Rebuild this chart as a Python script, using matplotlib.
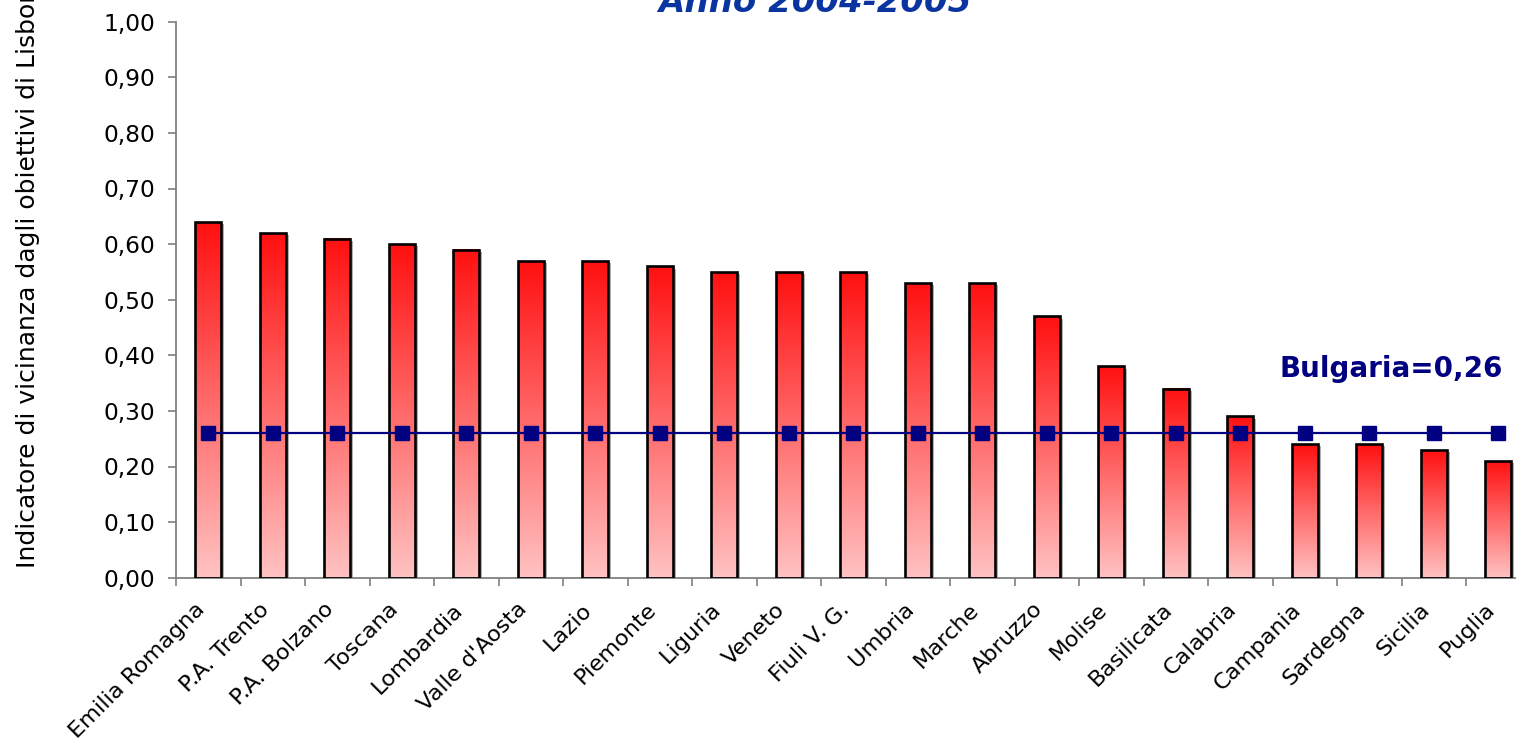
import numpy as np
import matplotlib
matplotlib.use('Agg')
import matplotlib.pyplot as plt
import matplotlib.transforms as mtransforms
from matplotlib.colors import LinearSegmentedColormap

regioni = ["Emilia Romagna", "P.A. Trento", "P.A. Bolzano", "Toscana", "Lombardia",
           "Valle d'Aosta", "Lazio", "Piemonte", "Liguria", "Veneto", "Fiuli V. G.",
           "Umbria", "Marche", "Abruzzo", "Molise", "Basilicata", "Calabria",
           "Campania", "Sardegna", "Sicilia", "Puglia"]
valori = [0.64, 0.62, 0.61, 0.60, 0.59, 0.57, 0.57, 0.56, 0.55, 0.55, 0.55,
          0.53, 0.53, 0.47, 0.38, 0.34, 0.29, 0.24, 0.24, 0.23, 0.21]
bulgaria = 0.26
yticks = np.arange(0, 1.01, 0.1)

W, H = 1516, 744
fig = plt.figure(figsize=(W/100, H/100), dpi=100)
ax = fig.add_axes([176/W, 1-577.7/H, (1530.5-176)/W, (577.7-21.7)/H])

x = np.arange(len(regioni))
bw = 0.41
cmap = LinearSegmentedColormap.from_list('rosso', ['#ffc2c2', '#ff1010'])
grad = np.linspace(0, 1, 256).reshape(-1, 1)

# gradient fill for every bar, dark red at the top
for xi, v in zip(x, valori):
    ax.imshow(grad, extent=[xi-bw/2, xi+bw/2, 0, v], origin='lower',
              cmap=cmap, aspect='auto', zorder=2)
    # faint grey shadow
    ax.add_patch(plt.Rectangle((xi-bw/2+0.04, 0), bw, v-0.004,
                               facecolor='#b0b0b0', edgecolor='none', zorder=1.5))
ax.bar(x, valori, width=bw, facecolor='none', edgecolor='black', linewidth=1.9, zorder=3)

ax.plot(x, [bulgaria]*len(x), color='#000080', lw=1.6, marker='s', ms=10.5,
        markerfacecolor='#000080', markeredgecolor='#000080', zorder=4)

ax.set_xlim(-0.5, len(x)-0.5)
ax.set_ylim(0, 1)
ax.set_yticks(yticks)
ax.set_yticklabels([f"{t:.2f}".replace('.', ',') for t in yticks])
ax.set_xticks(x)
ax.set_xticklabels(regioni, rotation=45, ha='right', va='top', rotation_mode='anchor')
ax.set_xticks(np.arange(len(x)+1)-0.5, minor=True)

for s in ['top', 'right']:
    ax.spines[s].set_visible(False)
for s in ['left', 'bottom']:
    ax.spines[s].set_color('#7f7f7f')
    ax.spines[s].set_linewidth(1.3)
ax.tick_params(axis='y', labelsize=16.8, length=6, width=1.2, color='#7f7f7f', pad=9)
ax.tick_params(axis='x', which='major', labelsize=16.2, length=0, pad=14)
ax.tick_params(axis='x', which='minor', length=6, width=1.2, color='#7f7f7f')

# shift the slanted labels so they end just left of the bar centre
shift = mtransforms.ScaledTranslation(-0.14, -0.02, fig.dpi_scale_trans)
for lab in ax.get_xticklabels():
    lab.set_transform(lab.get_transform() + shift)

fig.text(28/W, 1-568/H, 'Indicatore di vicinanza dagli obiettivi di Lisbona',
         rotation=90, ha='center', va='bottom', fontsize=18)
fig.text(815/W, 1-12/H, 'Anno 2004-2005', ha='center', va='baseline',
         fontsize=24.5, fontweight='bold', fontstyle='italic', color='#0a34a0')
fig.text(1503/W, 1-377/H, f"Bulgaria={bulgaria:.2f}".replace('.', ','), ha='right',
         va='baseline', fontsize=20, fontweight='bold', color='#000080')

fig.savefig('out.png', dpi=100)
